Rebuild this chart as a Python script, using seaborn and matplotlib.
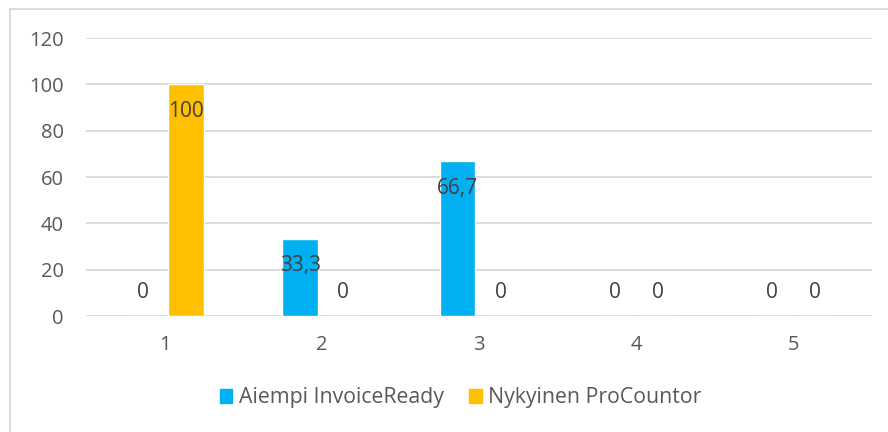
import matplotlib
matplotlib.use("Agg")
import matplotlib.pyplot as plt
from matplotlib.patches import Rectangle
import seaborn as sns
import pandas as pd

categories = ["1", "2", "3", "4", "5"]
aiempi = [0, 33.3, 66.7, 0, 0]
nykyinen = [100, 0, 0, 0, 0]
series_names = ["Aiempi InvoiceReady", "Nykyinen ProCountor"]
colors = ["#00B0F0", "#FFC000"]
y_ticks = [0, 20, 40, 60, 80, 100, 120]

df = pd.DataFrame({
    "kategoria": categories * 2,
    "arvo": aiempi + nykyinen,
    "sarja": [series_names[0]] * len(categories) + [series_names[1]] * len(categories),
})

sns.set_style("white")
plt.rcParams["font.family"] = ["Open Sans", "DejaVu Sans"]
text_color = "#595959"
grid_color = "#D9D9D9"

fig = plt.figure(figsize=(8.88, 4.32), dpi=100)
fig.patch.set_facecolor("white")
ax = fig.add_axes([0.0968, 0.2685, 0.8852, 0.6435])

sns.barplot(data=df, x="kategoria", y="arvo", hue="sarja", order=categories,
            hue_order=series_names, palette=colors, width=0.547, gap=0.164,
            saturation=1, ax=ax, legend=False, errorbar=None)

ax.set_ylim(0, 120)
ax.set_yticks(y_ticks)
ax.set_xlim(-0.5, len(categories) - 0.5)
ax.set_xlabel("")
ax.set_ylabel("")
ax.grid(axis="y", color=grid_color, linewidth=1.3)
ax.set_axisbelow(True)
for s in ax.spines.values():
    s.set_visible(False)
ax.tick_params(axis="both", length=0, colors=text_color, labelsize=14.5)
ax.tick_params(axis="y", pad=16)
ax.tick_params(axis="x", pad=14)

def fmt(v):
    s = f"{v:.1f}".replace(".", ",")
    return s[:-2] if s.endswith(",0") else s

for container in ax.containers:
    for bar in container:
        v = bar.get_height()
        x = bar.get_x() + bar.get_width() / 2
        dy = -27 if v > 0 else 24
        ax.annotate(fmt(v), (x, v), xytext=(0, dy), textcoords="offset pixels",
                    ha="center", va="center", color="#404040", fontsize=15)

handles = [Rectangle((0, 0), 1, 1, color=c) for c in colors]
fig.legend(handles, series_names, loc="center", bbox_to_anchor=(0.5186, 0.079),
           ncol=2, frameon=False, fontsize=15.3, labelcolor=text_color,
           handlelength=0.6, handleheight=0.6, handletextpad=0.3, columnspacing=1.2)

# thin frame around the chart area
fig.add_artist(Rectangle((10 / 888, -0.1), 1.2, 1 - 9 / 432 + 0.1,
                         transform=fig.transFigure, fill=False,
                         edgecolor=grid_color, linewidth=1.3))

fig.savefig("out.png", dpi=100)
